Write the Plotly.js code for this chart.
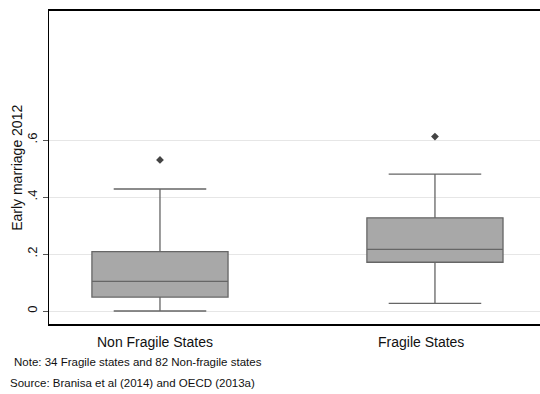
<!DOCTYPE html>
<html>
<head>
<meta charset="utf-8">
<script src="https://cdn.plot.ly/plotly-3.0.1.min.js"></script>
<style>html,body{margin:0;padding:0;background:#fff;}#chart{width:540px;height:394px;}</style>
</head>
<body>
<div id="chart"></div>
<script>
var categories = ["Non Fragile States", "Fragile States"];
var lowerWhisker = [0.0, 0.027];
var q1Values = [0.049, 0.171];
var medianValues = [0.104, 0.216];
var q3Values = [0.208, 0.327];
var upperWhisker = [0.428, 0.48];
var outlierCats = ["Non Fragile States", "Fragile States"];
var outlierValues = [0.53, 0.612];
var yTickVals = [0, 0.2, 0.4, 0.6];
var yTickText = ["0", ".2", ".4", ".6"];
var yTitle = "Early marriage 2012";
var noteText = "Note: 34 Fragile states and 82 Non-fragile states";
var sourceText = "Source: Branisa et al (2014) and OECD (2013a)";

var FONT = "Liberation Sans, Arial, sans-serif";

var traces = [{
  type: "box",
  x: categories,
  q1: q1Values,
  median: medianValues,
  q3: q3Values,
  lowerfence: lowerWhisker,
  upperfence: upperWhisker,
  fillcolor: "#a8a8a8",
  line: {color: "#666666", width: 1.3},
  width: 0.495,
  whiskerwidth: 0.68,
  boxpoints: false,
  hoverinfo: "none",
  showlegend: false
}, {
  type: "scatter",
  mode: "markers",
  x: outlierCats,
  y: outlierValues,
  marker: {symbol: "diamond", size: 6, color: "#444444"},
  hoverinfo: "none",
  showlegend: false
}];

var labelShifts = [-5, -14];
var catAnnotations = categories.map(function (c, i) {
  return {
    text: c, xref: "x", yref: "paper", x: i, y: -0.024,
    xanchor: "center", yanchor: "top", xshift: labelShifts[i],
    showarrow: false, font: {size: 14, family: FONT, color: "#111"}
  };
});

var layout = {
  width: 540, height: 394,
  margin: {l: 49, r: 0, t: 11, b: 70},
  paper_bgcolor: "#ffffff",
  plot_bgcolor: "#ffffff",
  font: {family: FONT, color: "#000"},
  xaxis: {
    type: "category",
    range: [-0.4036, 1.382],
    showgrid: false,
    zeroline: false,
    showline: true,
    linecolor: "#000",
    linewidth: 2,
    mirror: true,
    ticks: "",
    showticklabels: false
  },
  yaxis: {
    range: [-0.0456, 1.0526],
    tickvals: yTickVals,
    ticktext: yTickText,
    tickangle: -90,
    ticks: "outside",
    ticklen: 5,
    tickcolor: "#555",
    tickwidth: 1,
    showgrid: true,
    gridcolor: "#e6e6e6",
    gridwidth: 1,
    zeroline: false,
    showline: true,
    linecolor: "#000",
    linewidth: 1.5,
    tickfont: {size: 13, family: FONT, color: "#111"}
  },
  annotations: catAnnotations.concat([{
    text: yTitle, xref: "paper", yref: "paper", textangle: -90,
    x: -0.0665, y: 0.5, xanchor: "center", yanchor: "middle",
    showarrow: false, font: {size: 14, family: FONT, color: "#111"}
  }, {
    text: noteText, xref: "paper", yref: "paper",
    x: -0.0748, y: -0.123, xanchor: "left", yanchor: "middle",
    showarrow: false, font: {size: 11.5, family: FONT, color: "#111"}
  }, {
    text: sourceText, xref: "paper", yref: "paper",
    x: -0.0835, y: -0.19, xanchor: "left", yanchor: "middle",
    showarrow: false, font: {size: 11.5, family: FONT, color: "#111"}
  }])
};

Plotly.newPlot("chart", traces, layout, {displayModeBar: false, staticPlot: true});
</script>
</body>
</html>
